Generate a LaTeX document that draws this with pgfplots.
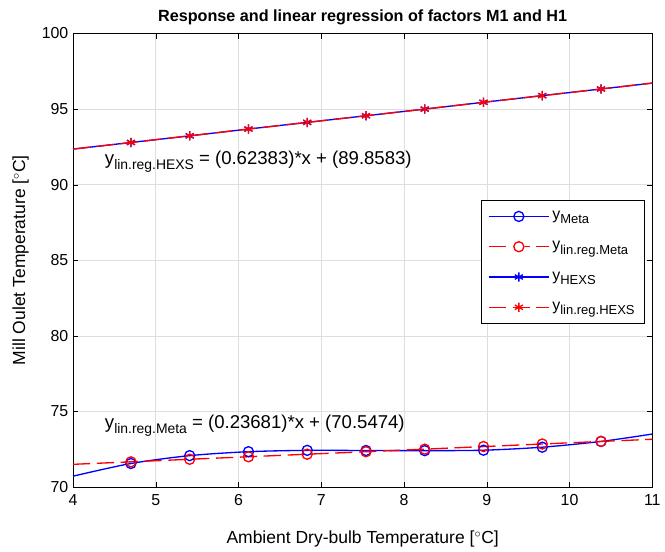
\documentclass[border=0pt]{standalone}
\usepackage{fontspec}
\setmainfont{Liberation Sans}
\usepackage{pgfplots}
\pgfplotsset{compat=1.18}
\newcommand{\eqsub}[1]{\raisebox{-0.5ex}{\fontsize{10.5}{12}\selectfont #1}}
\newcommand{\lgsub}[1]{\raisebox{-0.5ex}{\fontsize{9.8}{11}\selectfont #1}}
\newcommand{\lgmark}[3]{% color, mark, size
  \begin{scope}[#1, line width=1pt, solid]
    \pgftransformshift{\pgfpoint{0.8cm}{0cm}}\pgfsetplotmarksize{#3}\pgfuseplotmark{#2}
  \end{scope}}
\begin{document}
\begin{tikzpicture}
\begin{axis}[
  scale only axis, width=437pt, height=342pt,
  xmin=4, xmax=11, ymin=70, ymax=100,
  xtick={4,...,11}, ytick={70,75,...,100},
  grid=major, major grid style={black!13},
  tick align=inside, major tick length=4pt,
  axis line style={black}, tick style={black},
  /pgf/number format/assume math mode=true,
  tick label style={font=\fontsize{12}{14}\selectfont},
  xticklabel style={yshift=-2pt},
  label style={font=\fontsize{13.2}{15}\selectfont},
  xlabel style={yshift=-12pt},
  ylabel style={yshift=3pt},
  title style={font=\bfseries\fontsize{12.2}{14}\selectfont, yshift=-3pt},
  title={Response and linear regression of factors M1 and H1},
  xlabel={Ambient Dry-bulb Temperature [$^\circ$C]},
  ylabel={Mill Oulet Temperature [$^\circ$C]},
  legend style={at={(rel axis cs:0.986,0.632)}, anchor=north east, draw=black,
    font=\fontsize{12}{14}\selectfont, cells={anchor=west}, row sep=11pt,
    inner xsep=5pt, inner ysep=6pt},
  legend cell align=left,
]
\addplot[blue, line width=1pt, smooth, mark=o, mark size=3.8pt, mark indices={2,...,10},
  mark options={solid},
  legend image code/.code={\draw[blue, line width=1pt] (0cm,0cm) -- (1.6cm,0cm);
    \lgmark{blue}{o}{3.8pt}}
  ] coordinates {
  (4,70.71) (4.70,71.55) (5.41,72.07) (6.12,72.33) (6.83,72.42) (7.54,72.41)
  (8.25,72.40) (8.96,72.43) (9.67,72.63) (10.38,73.01) (11,73.50)};
\addlegendentry{y\lgsub{Meta}}
\addplot[red, line width=1pt, dash pattern=on 13pt off 5pt, mark=o, mark size=3.8pt,
  mark indices={2,...,10}, mark options={solid},
  legend image code/.code={\draw[red, line width=1pt, dash pattern=on 13pt off 5pt] (0cm,0cm) -- (1.6cm,0cm);
    \fill[white] (0.8cm,0cm) circle (3.8pt);
    \lgmark{red}{o}{3.8pt}}
  ] coordinates {
  (4,71.495) (4.70,71.66) (5.41,71.83) (6.12,71.996) (6.83,72.165) (7.54,72.33)
  (8.25,72.50) (8.96,72.67) (9.67,72.84) (10.38,73.01) (11,73.152)};
\addlegendentry{y\lgsub{lin.reg.Meta}}
\addplot[blue, line width=1pt, mark=asterisk, mark size=3.5pt, mark indices={2,...,10},
  mark options={solid},
  legend image code/.code={\draw[blue, line width=1pt] (0cm,0cm) -- (1.6cm,0cm);
    \lgmark{blue}{asterisk}{3.5pt}}
  ] coordinates {
  (4,92.353) (4.70,92.79) (5.41,93.23) (6.12,93.68) (6.83,94.12) (7.54,94.56)
  (8.25,95.00) (8.96,95.45) (9.67,95.89) (10.38,96.33) (11,96.72)};
\addlegendentry{y\lgsub{HEXS}}
\addplot[red, line width=1pt, dash pattern=on 13pt off 5pt, mark=asterisk, mark size=3.5pt,
  mark indices={2,...,10}, mark options={solid},
  legend image code/.code={\draw[red, line width=1pt, dash pattern=on 13pt off 5pt] (0cm,0cm) -- (1.6cm,0cm);
    \lgmark{red}{asterisk}{3.5pt}}
  ] coordinates {
  (4,92.353) (4.70,92.79) (5.41,93.23) (6.12,93.68) (6.83,94.12) (7.54,94.56)
  (8.25,95.00) (8.96,95.45) (9.67,95.89) (10.38,96.33) (11,96.72)};
\addlegendentry{y\lgsub{lin.reg.HEXS}}
\node[anchor=west, font=\fontsize{14}{16}\selectfont] at (axis cs:4.33,91.5)
  {y\eqsub{lin.reg.HEXS} = (0.62383)*x + (89.8583)};
\node[anchor=west, font=\fontsize{14}{16}\selectfont] at (axis cs:4.33,74.05)
  {y\eqsub{lin.reg.Meta} = (0.23681)*x + (70.5474)};
\end{axis}
\path (current bounding box.west) ++(-6pt,0);
\path (current bounding box.north) ++(0,4pt);
\end{tikzpicture}
\end{document}
